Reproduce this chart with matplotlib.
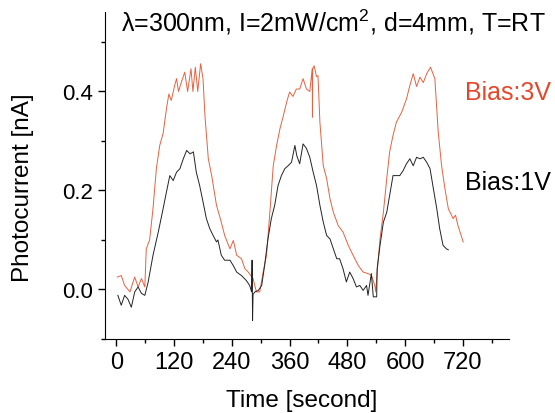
import matplotlib
matplotlib.use("Agg")
import matplotlib.pyplot as plt

plt.rcParams["font.family"] = ["Liberation Sans", "DejaVu Sans"]
plt.rcParams["mathtext.fontset"] = "custom"
plt.rcParams["mathtext.rm"] = "Liberation Sans"

# Bias 3V (red)
t_3v = [2, 10, 17, 28, 38, 45, 52, 59, 62, 69, 76, 83, 90, 97, 104, 109, 114, 121, 125, 129,
        135, 142, 148, 155, 159, 164, 169, 175, 180, 184, 191, 198, 208, 218, 225, 236, 243,
        250, 260, 267, 274, 284, 291, 298, 305, 312, 319, 326, 333, 340, 347, 354, 360, 367,
        374, 381, 388, 395, 402, 407, 407.5, 408, 411, 416, 419, 423, 430, 437, 444, 451, 461,
        471, 482, 492, 503, 513, 523, 530, 537, 539, 542, 548, 555, 562, 568, 575, 582, 593,
        603, 610, 617, 624, 631, 638, 645, 653, 662, 669, 676, 683, 690, 700, 705, 710, 721]
i_3v = [0.025, 0.028, 0.008, -0.005, 0.025, 0.005, 0.022, 0.005, 0.082, 0.100, 0.163, 0.244,
        0.291, 0.315, 0.365, 0.395, 0.382, 0.412, 0.426, 0.400, 0.419, 0.439, 0.400, 0.446,
        0.400, 0.449, 0.400, 0.456, 0.426, 0.351, 0.264, 0.230, 0.170, 0.136, 0.109, 0.082,
        0.099, 0.069, 0.062, 0.042, 0.035, 0.022, -0.005, -0.005, 0.035, 0.069, 0.156, 0.250,
        0.291, 0.325, 0.351, 0.379, 0.399, 0.390, 0.405, 0.405, 0.426, 0.405, 0.400, 0.446,
        0.348, 0.446, 0.452, 0.430, 0.432, 0.338, 0.250, 0.224, 0.183, 0.156, 0.129, 0.116,
        0.089, 0.069, 0.048, 0.035, 0.032, 0.029, 0.008, -0.005, 0.035, 0.102, 0.156, 0.224,
        0.278, 0.311, 0.338, 0.358, 0.385, 0.412, 0.436, 0.410, 0.429, 0.418, 0.436, 0.449,
        0.426, 0.318, 0.250, 0.203, 0.163, 0.143, 0.150, 0.129, 0.096]

# Bias 1V (black)
t_1v = [3, 10, 17, 24, 31, 38, 45, 52, 59, 66, 76, 87, 97, 104, 111, 118, 125, 132, 139, 146,
        153, 160, 166, 173, 180, 187, 194, 201, 208, 211, 218, 225, 236, 243, 250, 260, 270,
        277, 281, 282, 283, 284, 288, 295, 302, 308, 315, 322, 329, 336, 343, 350, 357, 364,
        371, 375, 381, 388, 395, 402, 409, 416, 423, 430, 437, 444, 451, 458, 464, 471, 478,
        485, 492, 499, 506, 513, 520, 523, 530, 534, 541, 542, 548, 555, 562, 568, 575, 582,
        589, 596, 603, 610, 617, 624, 631, 638, 645, 652, 659, 666, 672, 679, 686, 690]
i_1v = [-0.012, -0.032, -0.012, -0.020, -0.036, -0.005, 0.005, -0.008, -0.012, 0.015, 0.069,
        0.116, 0.163, 0.197, 0.230, 0.220, 0.237, 0.244, 0.264, 0.281, 0.274, 0.278, 0.237,
        0.210, 0.177, 0.143, 0.123, 0.109, 0.096, 0.100, 0.069, 0.059, 0.059, 0.048, 0.035,
        0.028, 0.018, 0.008, -0.005, 0.059, -0.063, -0.010, -0.005, -0.002, 0.008, 0.048,
        0.102, 0.143, 0.170, 0.210, 0.230, 0.244, 0.250, 0.257, 0.291, 0.270, 0.254, 0.294,
        0.285, 0.267, 0.237, 0.210, 0.170, 0.136, 0.109, 0.102, 0.082, 0.062, 0.062, 0.042,
        0.015, 0.035, 0.022, 0.005, 0.008, -0.002, 0.008, -0.012, 0.032, -0.015, -0.015,
        0.042, 0.089, 0.136, 0.156, 0.190, 0.230, 0.230, 0.230, 0.240, 0.254, 0.264, 0.250,
        0.267, 0.264, 0.267, 0.257, 0.244, 0.203, 0.163, 0.123, 0.089, 0.082, 0.080]

x_ticks = [0, 120, 240, 360, 480, 600, 720]
y_ticks = [0.0, 0.2, 0.4]

red = "#E5472A"

fig = plt.figure(figsize=(5.55, 4.14), dpi=100)
ax = fig.add_axes([0.189, 0.179, 0.728, 0.790])

ax.plot(t_3v, i_3v, color="#E8603F", lw=0.7)
ax.plot(t_1v, i_1v, color="#222222", lw=0.7)

ax.set_xlim(-24, 816)
ax.set_ylim(-0.1, 0.561)
ax.set_xticks(x_ticks)
ax.set_xticks(range(60, 800, 120), minor=True)
ax.set_yticks(y_ticks)
ax.set_yticks([-0.1, 0.1, 0.3, 0.5], minor=True)
ax.set_yticklabels(["0.0", "0.2", "0.4"])

for s in ["top", "right"]:
    ax.spines[s].set_visible(False)
ax.tick_params(which="major", direction="out", length=5, width=1, labelsize=16)
ax.tick_params(axis="x", which="major", labelsize=17)
ax.tick_params(which="minor", direction="out", length=3, width=1)

ax.set_xlabel("Time [second]", fontsize=17.5, va="baseline")
ax.xaxis.set_label_coords(0.4876, -0.205)
ax.set_ylabel("Photocurrent [nA]", fontsize=17.5)
ax.yaxis.set_label_coords(-0.176, 0.465)

fig.text(0.218, 0.923, "λ=300nm, I=2mW/cm$^2$, d=4mm, T=RT", fontsize=18, va="baseline")
fig.text(0.838, 0.758, "Bias:3V", color=red, fontsize=18, va="baseline")
fig.text(0.838, 0.541, "Bias:1V", color="black", fontsize=18, va="baseline")

fig.savefig("out.png", dpi=100)
